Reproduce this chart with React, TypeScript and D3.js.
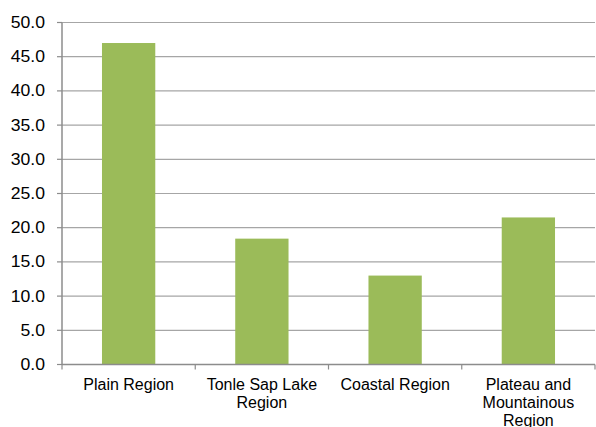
import React from "react";
import * as d3 from "d3";

const categories: string[][] = [
  ["Plain Region"],
  ["Tonle Sap Lake", "Region"],
  ["Coastal Region"],
  ["Plateau and", "Mountainous", "Region"],
];
const values: number[] = [47.0, 18.4, 13.0, 21.5];
const yTicks: number[] = [0, 5, 10, 15, 20, 25, 30, 35, 40, 45, 50];

const W = 596;
const H = 427;
const left = 62;
const right = 595;
const top = 22.5;
const bottom = 364.5;

export default function App() {
  const keys = categories.map((c) => c.join(" "));
  const x = d3.scaleBand<string>().domain(keys).range([left, right]).paddingInner(0.6).paddingOuter(0.3);
  const outer = d3.scaleBand<string>().domain(keys).range([left, right]);
  const y = d3.scaleLinear().domain([0, 50]).range([bottom, top]);
  const font = "'Liberation Sans', Arial, sans-serif";

  return (
    <svg width={W} height={H} style={{ position: "absolute", left: 0, top: 0, display: "block" }}>
      <rect width={W} height={H} fill="#ffffff" />
      {yTicks.map((t) => (
        <g key={t}>
          {t > 0 && (
            <line x1={left} x2={right} y1={y(t)} y2={y(t)} stroke="#a6a6a6" strokeWidth={1.2} />
          )}
          <line x1={left - 5} x2={left} y1={y(t)} y2={y(t)} stroke="#8c8c8c" strokeWidth={1.2} />
          <text
            x={45}
            y={y(t)}
            dy="0.35em"
            textAnchor="end"
            fontFamily={font}
            fontSize={16}
            fill="#000"
            transform={`translate(45,0) scale(1.1,1) translate(-45,0)`}
          >
            {t.toFixed(1)}
          </text>
        </g>
      ))}
      {values.map((v, i) => (
        <rect
          key={keys[i]}
          x={x(keys[i])!}
          y={y(v)}
          width={x.bandwidth()}
          height={y(0) - y(v)}
          fill="#9bbb59"
        />
      ))}
      <line x1={left} x2={left} y1={top} y2={bottom} stroke="#8c8c8c" strokeWidth={1.5} />
      <line x1={left} x2={right} y1={bottom} y2={bottom} stroke="#8c8c8c" strokeWidth={1.5} />
      {keys.map((k) => (
        <line key={k} x1={outer(k)!} x2={outer(k)!} y1={bottom} y2={bottom + 5} stroke="#8c8c8c" strokeWidth={1.2} />
      ))}
      <line x1={right} x2={right} y1={bottom} y2={bottom + 5} stroke="#8c8c8c" strokeWidth={1.2} />
      {categories.map((lines, i) => (
        <text
          key={keys[i]}
          x={outer(keys[i])! + outer.bandwidth() / 2}
          y={bottom + 25}
          textAnchor="middle"
          fontFamily={font}
          fontSize={16}
          fill="#000"
        >
          {lines.map((l, j) => (
            <tspan key={j} x={outer(keys[i])! + outer.bandwidth() / 2} dy={j === 0 ? 0 : 18}>
              {l}
            </tspan>
          ))}
        </text>
      ))}
    </svg>
  );
}
